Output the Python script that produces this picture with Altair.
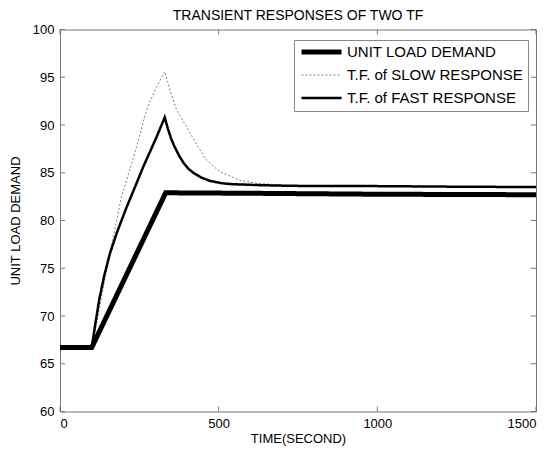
import altair as alt
import pandas as pd

series_names = ["UNIT LOAD DEMAND", "T.F. of SLOW RESPONSE", "T.F. of FAST RESPONSE"]

load_t = [0, 100, 333, 600, 1000, 1500]
load_v = [66.7, 66.7, 82.9, 82.85, 82.75, 82.7]

slow_t = [0, 100, 120, 152, 194, 226, 241, 273, 304, 330, 348, 367, 399, 430, 462, 504, 567, 620, 700, 800, 1000, 1500]
slow_v = [66.7, 66.7, 70.0, 75.8, 82.5, 86.0, 87.7, 91.6, 94.0, 95.6, 93.5, 91.6, 89.8, 88.0, 86.3, 85.1, 84.2, 83.9, 83.7, 83.6, 83.6, 83.5]

fast_t = [0, 100, 110, 124, 140, 157, 180, 210, 240, 262, 285, 305, 320, 330, 340, 350, 360, 375, 390, 405, 420, 445, 472, 510, 545, 590, 630, 700, 800, 1000, 1200, 1500]
fast_v = [66.7, 66.7, 68.9, 71.8, 74.3, 76.5, 78.8, 81.4, 83.8, 85.6, 87.3, 88.8, 90.0, 90.8, 89.6, 88.6, 87.8, 86.8, 86.0, 85.4, 85.0, 84.5, 84.15, 83.9, 83.8, 83.75, 83.7, 83.65, 83.6, 83.6, 83.55, 83.5]

x_ticks = [0, 500, 1000, 1500]
y_ticks = [60, 65, 70, 75, 80, 85, 90, 95, 100]

rows = []
for name, ts, vs in zip(series_names, [load_t, slow_t, fast_t], [load_v, slow_v, fast_v]):
    for t, v in zip(ts, vs):
        rows.append({"series": name, "t": t, "v": v})
df = pd.DataFrame(rows)

W, H = 476, 382
FONT = "Liberation Sans"
AX = "#777777"

x_scale = alt.Scale(domain=[0, 1500], nice=False, zero=False)
y_scale = alt.Scale(domain=[60, 100], nice=False, zero=False)

leg = alt.Legend(
    title=None, orient="none", legendX=234, legendY=10.5,
    symbolType="stroke", symbolSize=1600, clipHeight=14, rowPadding=8,
    labelFont=FONT, labelFontSize=15, labelColor="#000000", labelOffset=3,
    labelLimit=400, padding=5, strokeColor="#888888", fillColor="#ffffff",
)

lines = alt.Chart(df).mark_line(strokeCap="butt").encode(
    x=alt.X("t:Q", scale=x_scale,
            axis=alt.Axis(values=x_ticks, title="TIME(SECOND)", ticks=False, tickSize=0,
                          domain=False, grid=False, labelPadding=6, titlePadding=2,
                          format="d")),
    y=alt.Y("v:Q", scale=y_scale,
            axis=alt.Axis(values=y_ticks, title="UNIT LOAD DEMAND", ticks=False, tickSize=0,
                          domain=False, grid=False, labelPadding=6, titlePadding=10,
                          format="d")),
    color=alt.Color("series:N", scale=alt.Scale(domain=series_names,
                                                range=["#000000", "#808080", "#000000"]),
                    legend=leg),
    strokeDash=alt.StrokeDash("series:N", scale=alt.Scale(domain=series_names,
                                                          range=[[1, 0], [2, 2], [1, 0]]),
                              legend=leg),
    strokeWidth=alt.StrokeWidth("series:N", scale=alt.Scale(type="ordinal", domain=series_names,
                                                            range=[5, 1, 2.5]),
                                legend=leg),
    order=alt.Order("t:Q"),
)

xt = pd.DataFrame({"t": x_ticks})
yt = pd.DataFrame({"v": y_ticks})
tick_bottom = alt.Chart(xt).mark_rule(color=AX).encode(x=alt.X("t:Q", scale=x_scale), y=alt.value(H), y2=alt.value(H - 5))
tick_top = alt.Chart(xt).mark_rule(color=AX).encode(x=alt.X("t:Q", scale=x_scale), y=alt.value(0), y2=alt.value(5))
tick_left = alt.Chart(yt).mark_rule(color=AX).encode(y=alt.Y("v:Q", scale=y_scale), x=alt.value(0), x2=alt.value(5))
tick_right = alt.Chart(yt).mark_rule(color=AX).encode(y=alt.Y("v:Q", scale=y_scale), x=alt.value(W), x2=alt.value(W - 5))

chart = alt.layer(tick_bottom, tick_top, tick_left, tick_right, lines).properties(
    width=W, height=H,
    background="#ffffff",
    autosize=alt.AutoSizeParams(type="none"),
    padding={"left": 52, "top": 21.5, "right": 8, "bottom": 35.5},
    title=alt.TitleParams("TRANSIENT RESPONSES OF TWO TF", font=FONT, fontSize=14,
                          fontWeight="normal", color="#000000", anchor="middle", offset=1),
).configure_view(
    stroke=AX, strokeWidth=1
).configure_axis(
    labelFont=FONT, labelFontSize=13, labelColor="#000000",
    titleFont=FONT, titleFontSize=13, titleFontWeight="normal", titleColor="#000000",
)

chart.save("out.html", embed_options={"renderer": "svg", "actions": False})
